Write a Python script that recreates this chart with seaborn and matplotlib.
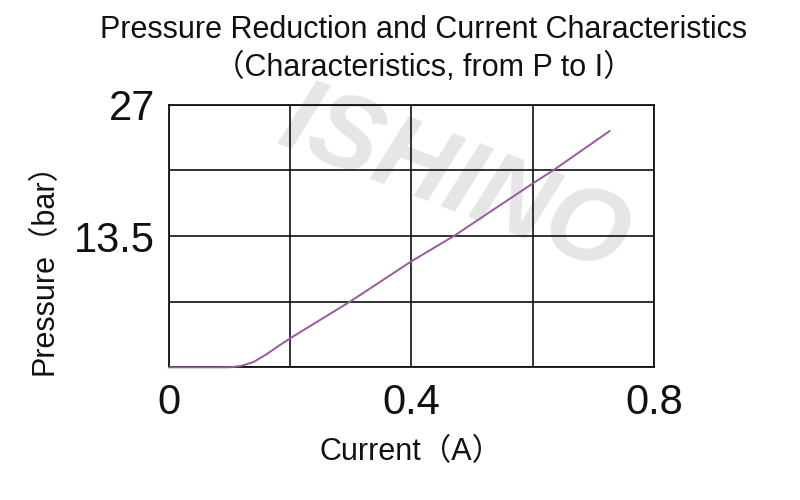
import matplotlib
matplotlib.use("Agg")
import matplotlib.pyplot as plt
import seaborn as sns
import pandas as pd

# Data
current = [0.0, 0.05, 0.10, 0.12, 0.14, 0.16, 0.18, 0.20, 0.30, 0.40, 0.47, 0.60, 0.635, 0.727]
pressure = [0.0, 0.0, 0.0, 0.15, 0.55, 1.30, 2.15, 2.98, 6.80, 10.90, 13.50, 18.90, 20.30, 24.30]
x_ticks = [0, 0.2, 0.4, 0.6, 0.8]
x_labels = ["0", "", "0.4", "", "0.8"]
y_ticks = [0, 6.75, 13.5, 20.25, 27]
y_labels = ["", "", "13.5", "", "27"]

df = pd.DataFrame({"Current": current, "Pressure": pressure})

sns.set_style("white")
FAM = ["Liberation Sans", "Noto Sans CJK SC", "DejaVu Sans"]
plt.rcParams["font.family"] = FAM

fig = plt.figure(figsize=(8, 5), dpi=100)
ax = fig.add_axes([0.211, 0.2654, 0.6065, 0.5252])
ax.set_facecolor("none")
ax.set_axisbelow(False)

# watermark (behind the grid)
ax.text(0.568, 0.635, "ISHINO", transform=fig.transFigure, fontsize=76,
        fontweight="bold", fontstyle="italic", color="#e6e6e6", rotation=-21,
        ha="center", va="center", zorder=0.1, clip_on=False)

sns.lineplot(data=df, x="Current", y="Pressure", ax=ax, color="#985b9c",
             linewidth=1.4, estimator=None, sort=False, zorder=4)
for ln in ax.lines:
    ln.set_clip_on(False)

ax.set_xlim(0, 0.8)
ax.set_ylim(0, 27)
ax.set_xticks(x_ticks)
ax.set_xticklabels(x_labels)
ax.set_yticks(y_ticks)
ax.set_yticklabels(y_labels)
ax.tick_params(axis="both", length=0, labelsize=30, colors="#111111")
ax.tick_params(axis="x", pad=11)
ax.tick_params(axis="y", pad=10)
ax.grid(True, color="#111111", linewidth=1.2)
for s in ax.spines.values():
    s.set_visible(True)
    s.set_color("#111111")
    s.set_linewidth(1.3)

ax.set_xlabel("Current（A）", fontsize=22, color="#111111")
ax.set_ylabel("Pressure（bar）", fontsize=22, color="#111111")
ax.xaxis.set_label_coords(0.499, -0.323)
ax.yaxis.set_label_coords(-0.256, 0.405)
ax.xaxis.label.set_va("center")
ax.yaxis.label.set_va("center")

fig.text(0.53, 0.94, "Pressure Reduction and Current Characteristics", fontsize=22,
         ha="center", va="center", color="#111111")
fig.text(0.53, 0.864, "（Characteristics, from P to I）", fontsize=22,
         ha="center", va="center", color="#111111")

fig.savefig("out.png", dpi=100)
